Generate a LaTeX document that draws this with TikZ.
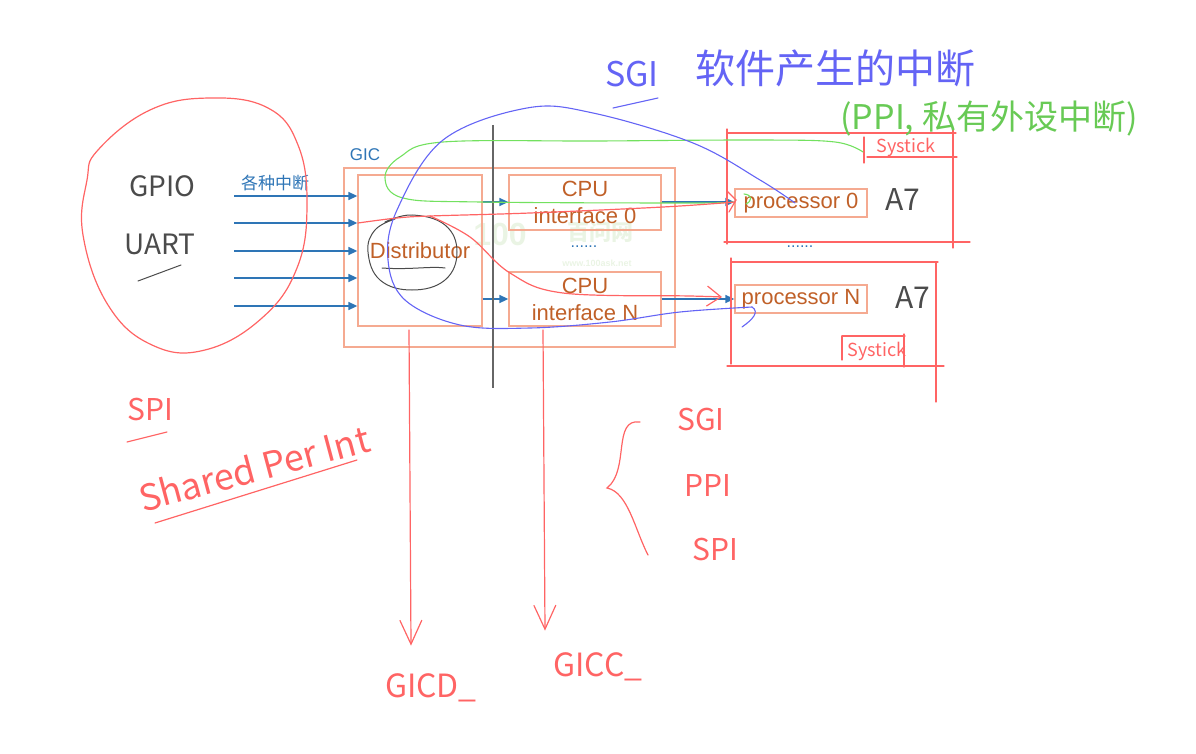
\documentclass[tikz,border=0pt]{standalone}
\usepackage{fontspec}
\setmainfont{Liberation Sans}
\newfontfamily\cjk{Noto Sans CJK SC}
\usetikzlibrary{arrows.meta,calc}
\definecolor{boxor}{RGB}{245,170,145}
\definecolor{txtbr}{RGB}{192,96,40}
\definecolor{arrbl}{RGB}{46,117,182}
\definecolor{penred}{RGB}{255,100,100}
\definecolor{penblue}{RGB}{100,100,245}
\definecolor{pengreen}{RGB}{115,225,95}
\definecolor{pengray}{RGB}{75,75,75}
\definecolor{wmark}{RGB}{234,244,228}
\tikzset{
  gicbox/.style={draw=boxor, line width=1.3pt, inner sep=0pt, text=txtbr,
     font=\fontsize{22}{27}\selectfont, align=center},
  procbox/.style={gicbox, minimum width=132pt, minimum height=28pt},
  blarrow/.style={draw=arrbl, line width=1.6pt, -{Triangle[length=9pt,width=8pt]}},
  penline/.style={draw=penred, line width=1.2pt, line cap=round},
  penarrow/.style={penline, -{Straight Barb[length=24pt,width=22pt,line width=1.2pt]}},
  bluepen/.style={draw=penblue, line width=1.1pt, line cap=round},
  greenpen/.style={draw=pengreen, line width=1.1pt, line cap=round},
  graypen/.style={draw=pengray, line width=1pt, line cap=round},
  redhand/.style={text=penred, font=\cjk\fontsize{#1}{#1}\selectfont, inner sep=0pt},
  grayhand/.style={text=pengray, font=\cjk\fontsize{#1}{#1}\selectfont, inner sep=0pt},
  bluehand/.style={text=penblue, font=\cjk\fontsize{#1}{#1}\selectfont, inner sep=0pt},
  greenhand/.style={text=pengreen!90!black, font=\cjk\fontsize{#1}{#1}\selectfont, inner sep=0pt},
  dots/.style={text=arrbl, font=\fontsize{16}{16}\selectfont, inner sep=0pt}
}
\begin{document}
\begin{tikzpicture}[x=1pt,y=-1pt]
\useasboundingbox (0,0) rectangle (1196,754);
% watermark
\node[text=wmark, font=\bfseries\fontsize{32}{32}\selectfont, inner sep=0pt] (wm1) at (500,234) {100};
\node[text=wmark, font=\cjk\bfseries\fontsize{22}{22}\selectfont, inner sep=0pt] (wm2) at (600,232) {百问网};
\node[text=wmark, font=\bfseries\fontsize{9}{9}\selectfont, inner sep=0pt] (wm3) at (597,263) {www.100ask.net};
% GIC
\node[gicbox, minimum width=331pt, minimum height=179pt] (gic) at (509.5,257.5) {};
\node[text=arrbl, font=\fontsize{17}{17}\selectfont, inner sep=0pt] (giclbl) at (365,155) {GIC};
\node[gicbox, minimum width=124pt, minimum height=151pt] (dist) at (420,250.5) {Distributor};
\node[gicbox, minimum width=152pt, minimum height=55pt] (if0) at (585,202.5) {CPU\\interface 0};
\node[gicbox, minimum width=152pt, minimum height=54pt] (ifN) at (585,299) {CPU\\interface N};
\node[dots] (d1) at (584,247) {......};
% processors
\node[procbox] (p0) at (801,203) {processor 0};
\node[procbox] (pN) at (801,299) {processor N};
\node[dots] (d2) at (800,247) {......};
% inputs
\node[text=arrbl, font=\cjk\fontsize{17}{17}\selectfont, inner sep=0pt] (irq) at (275,183) {各种中断};
\foreach \i/\y in {1/196,2/223,3/251,4/278,5/306}{
  \coordinate (in\i) at (234,\y);
  \draw[blarrow] (in\i) -- (dist.west |- in\i);
}
\coordinate (a0) at (0,202);
\coordinate (aN) at (0,299);
\draw[blarrow] (dist.east |- a0) -- (if0.west |- a0);
\draw[blarrow] (dist.east |- aN) -- (ifN.west |- aN);
\draw[blarrow] (if0.east |- a0) -- (p0.west |- a0);
\draw[blarrow] (ifN.east |- aN) -- (pN.west |- aN);
% black divider
\coordinate (divt) at (493,125);
\coordinate (divb) at (493,388);
\draw[draw=pengray!85, line width=1.1pt] (divt) -- (divb);
% processor frames (hand drawn)
\draw[penline] (727,133) -- (956,133);
\draw[penline] (727,129) -- (727,244);
\draw[penline] (724,242) -- (970,242);
\draw[penline] (953,130) -- (953,248);
\draw[penline] (864,137) -- (864,163);
\draw[penline] (867,157) -- (957,157);
\node[redhand=18] (st0) at (906,147) {Systick};
\node[grayhand=30] (a70) at (903,200) {A7};
\draw[penline] (731,262) -- (938,262);
\draw[penline] (731,258) -- (731,364);
\draw[penline] (727,366) -- (944,366);
\draw[penline] (936,262) -- (936,402);
\draw[penline] (842,336) -- (842,360);
\draw[penline] (842,336) -- (905,336);
\draw[penline] (904,334) -- (904,367);
\node[redhand=18] (stN) at (877,351) {Systick};
\node[grayhand=30] (a7N) at (913,298) {A7};
% GPIO/UART
\draw[penline] plot[smooth cycle, tension=0.7] coordinates {(98,150) (150,110) (210,98) (268,108) (298,145) (307,205) (297,268) (262,318) (205,350) (152,345) (108,305) (83,235) (87,180)};
\node[grayhand=28] (gpio) at (162,186) {GPIO};
\node[grayhand=28] (uart) at (160,244) {UART};
\draw[graypen] (138,281) -- (181,265);
% distributor marks
\draw[graypen] plot[smooth, tension=0.7] coordinates {(385,222) (412,215) (445,225) (457,252) (445,280) (412,290) (380,280) (368,252) (375,230) (395,219)};
\draw[graypen] (382,268) .. controls (410,270) and (430,266) .. (445,268);
% SPI notes
\node[redhand=30] (spi) at (150,410) {SPI};
\draw[penline] (127,442) -- (167,432);
\node[redhand=36, rotate=15] (shared) at (254,468) {Shared Per Int};
\draw[penline] (155,523) -- (357,460);
% brace and types
\draw[penline] (640,422) .. controls (612,418) and (630,470) .. (607,488)
  .. controls (628,492) and (635,530) .. (648,555);
\node[redhand=30] (sgi2) at (701,420) {SGI};
\node[redhand=30] (ppi2) at (708,486) {PPI};
\node[redhand=30] (spi2) at (715,550) {SPI};
% register prefixes
\node[redhand=32] (gicd) at (431,688) {GICD\_};
\node[redhand=32] (gicc) at (598,667) {GICC\_};
\coordinate (dd) at (409,330);
\coordinate (cc) at (543,330);
\draw[penarrow] (dd) -- ($(gicd.north)+(-20,-28)$);
\draw[penarrow] (cc) -- ($(gicc.north)+(-53,-22)$);
% titles
\node[bluehand=34] (sgit) at (632,74) {SGI};
\draw[bluepen] (613,108) -- (658,98);
\node[bluehand=40] (sgic) at (835,68) {软件产生的中断};
\node[greenhand=34] (ppit) at (989,119) {(PPI, 私有外设中断)};
% green PPI path
\draw[greenpen] plot[smooth, tension=0.6] coordinates {(863,152) (835,142) (760,140) (600,141) (443,142) (400,157) (385,178) (403,198) (480,202) (690,203) (733,202)};
\draw[greenpen] (744,194) .. controls (753,195) and (752,201) .. (746,204);
% blue SGI path
\draw[bluepen] plot[smooth, tension=0.6] coordinates {(795,203) (760,180) (693,143) (593,113) (527,108) (443,140) (397,210) (388,260) (405,300) (460,325) (530,328) (610,322) (680,312) (752,307)};
\draw[bluepen] (752,307) .. controls (760,312) and (752,320) .. (742,327);
% red SPI paths
\draw[penline] plot[smooth, tension=0.6] coordinates {(358,223) (397,218) (430,216) (530,213) (663,207) (735,202)};
\draw[penline] (727,191) -- (736,200) -- (729,212);
\draw[penline, -{Straight Barb[length=14pt,width=20pt,line width=1.2pt]}] plot[smooth, tension=0.6] coordinates {(430,216) (470,237) (510,273) (563,293) (690,296) (722,297)};
\end{tikzpicture}
\end{document}
